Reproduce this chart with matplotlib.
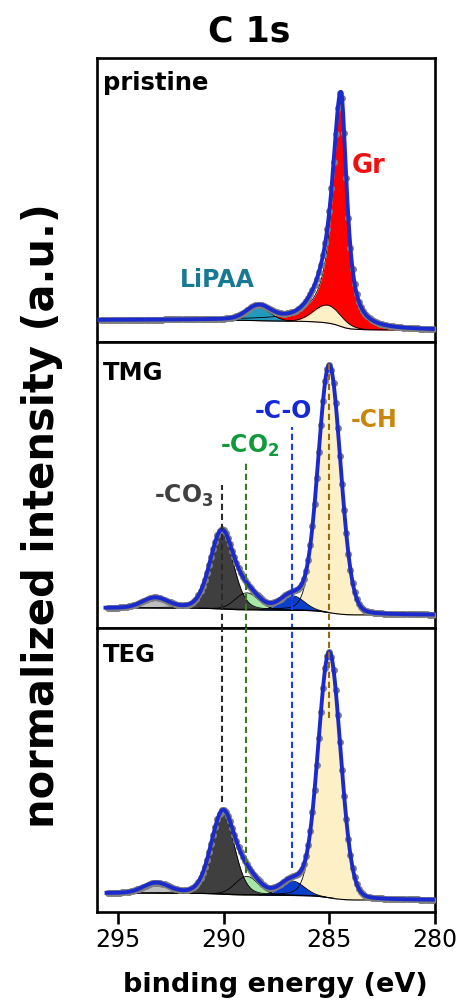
import numpy as np
import matplotlib
matplotlib.use("Agg")
import matplotlib.pyplot as plt

plt.rcParams['font.family'] = ['DejaVu Sans']
plt.rcParams['mathtext.fontset'] = 'dejavusans'

# ---------------- data ----------------
# fitted components: centre (eV), height (norm.), FWHM high-BE side, FWHM low-BE side, Lorentz fraction
P_NAMES = ['Gr', 'CH', 'LiPAA']
P_CENTER = [284.45, 285.10, 288.35]
P_HEIGHT = [0.940, 0.075, 0.055]
P_FWHM_HI = [0.95, 1.50, 1.30]
P_FWHM_LO = [0.66, 1.50, 1.30]
P_ETA = [0.90, 0.0, 0.0]
P_COLORS = ['#ff0000', '#fdf0c6', '#2399bd']
P_BG = [0.042, 0.0]           # background at high-BE end, low-BE end
P_RANGE = [280.1, 295.9]

T_NAMES = ['shake-up', '-CO2', '-CO3', '-CH', '-C-O']
T_CENTER = [293.25, 288.90, 290.10, 285.00, 286.75]
T_HEIGHT = [0.040, 0.068, 0.310, 0.990, 0.058]
T_FWHM_HI = [1.40, 1.30, 1.30, 1.25, 1.30]
T_FWHM_LO = [1.40, 1.30, 1.30, 1.25, 1.30]
T_ETA = [0.0, 0.0, 0.2, 0.1, 0.0]
T_BG = [0.028, 0.0]
T_RANGE = [280.1, 295.6]

G_NAMES = ['shake-up', '-CO2', '-CO3', '-CH', '-C-O']
G_CENTER = [293.20, 288.90, 290.05, 285.00, 286.75]
G_HEIGHT = [0.040, 0.075, 0.330, 0.990, 0.058]
G_FWHM_HI = [1.40, 1.30, 1.30, 1.25, 1.30]
G_FWHM_LO = [1.40, 1.30, 1.30, 1.25, 1.30]
G_ETA = [0.0, 0.0, 0.2, 0.1, 0.0]
G_BG = [0.028, 0.0]
G_RANGE = [280.1, 295.55]

SURF_COLORS = ['#bfbfbf', '#a6e6a6', '#3f3f3f', '#fdf0c6', '#0a3fcc']

# reference lines: position (eV), colour, (ymin, ymax) in TMG panel, (ymin, ymax) in TEG panel
REF_POS = [290.08, 288.94, 286.76, 285.00]
REF_COLORS = ['#2b2b2b', '#3c7a22', '#1f3cf5', '#99680f']
REF_TMG = [(-0.06, 0.52), (-0.06, 0.612), (-0.06, 0.752), (-0.06, 1.02)]
REF_TEG = [(0.395, 1.2), (0.109, 1.2), (0.129, 1.2), (0.734, 1.2)]

REF_LABELS = ['-CO$_\\mathbf{3}$', '-CO$_\\mathbf{2}$', '-C-O', '-CH']
REF_LABEL_COLORS = ['#404040', '#119a3c', '#1428d8', '#c8860a']
REF_LABEL_X = [291.88, 288.75, 287.16, 282.87]
REF_LABEL_Y = [0.448, 0.648, 0.788, 0.752]

PANEL_NAMES = ['pristine', 'TMG', 'TEG']
XTICKS = [295, 290, 285, 280]


# ---------------- helpers ----------------
def peak(E, c, h, fhi, flo, eta):
    w = np.where(E >= c, fhi, flo) / 2.0
    x = (E - c) / w
    return h * ((1 - eta) * np.exp(-np.log(2) * x ** 2) + eta / (1 + x ** 2))


def build(E, centers, heights, fhi, flo, eta, bgends):
    comps = [peak(E, c, h, a, b, e) for c, h, a, b, e in zip(centers, heights, fhi, flo, eta)]
    total = np.sum(comps, axis=0)
    cum = np.cumsum(total)
    bg = bgends[1] + (bgends[0] - bgends[1]) * cum / cum[-1]
    return comps, bg


def draw_panel(ax, rng, centers, heights, fhi, flo, eta, bgends, colors):
    E = np.linspace(rng[0], rng[1], 1200)
    comps, bg = build(E, centers, heights, fhi, flo, eta, bgends)
    for comp, col in zip(comps, colors):
        ax.fill_between(E, bg, bg + comp, where=comp > 1e-4, color=col, lw=0, zorder=2)
        m = comp > 1e-3
        ax.plot(E[m], (bg + comp)[m], color='k', lw=0.6, zorder=2.1)
    ax.plot(E, bg, color='k', lw=0.8, zorder=2.2)
    env = bg + np.sum(comps, axis=0)
    Ed = np.arange(rng[0], rng[1], 0.1)
    cd, bgd = build(Ed, centers, heights, fhi, flo, eta, bgends)
    envd = bgd + np.sum(cd, axis=0)
    ax.plot(Ed, envd, ls='none', marker='o', ms=5.0, color='#7f7f7f', mec='none', zorder=3)
    ax.plot(E, env, color='#1a2acc', lw=2.8, zorder=4)


fig = plt.figure(figsize=(4.61, 10.08), dpi=100)
edges = [58, 342, 628, 912]
left, right = 97 / 461, 435 / 461
ylims = [(-0.050, 1.143), (-0.052, 1.092), (-0.048, 1.097)]
axes = []
for i in range(3):
    top = 1 - edges[i] / 1008
    bot = 1 - edges[i + 1] / 1008
    ax = fig.add_axes([left, bot, right - left, top - bot])
    ax.set_xlim(296, 280)
    ax.set_ylim(*ylims[i])
    ax.set_yticks([])
    for s in ax.spines.values():
        s.set_linewidth(1.9)
    axes.append(ax)

draw_panel(axes[0], P_RANGE, P_CENTER, P_HEIGHT, P_FWHM_HI, P_FWHM_LO, P_ETA, P_BG, P_COLORS)
draw_panel(axes[1], T_RANGE, T_CENTER, T_HEIGHT, T_FWHM_HI, T_FWHM_LO, T_ETA, T_BG, SURF_COLORS)
draw_panel(axes[2], G_RANGE, G_CENTER, G_HEIGHT, G_FWHM_HI, G_FWHM_LO, G_ETA, G_BG, SURF_COLORS)

for ax in axes[:2]:
    ax.set_xticks([])
axes[2].set_xticks(XTICKS)
axes[2].set_xticklabels([str(t) for t in XTICKS], fontsize=17)
axes[2].tick_params(axis='x', direction='out', length=8.5, width=1.9, pad=3)

# reference dashed lines
for x, col, (a0, a1), (b0, b1) in zip(REF_POS, REF_COLORS, REF_TMG, REF_TEG):
    axes[1].vlines(x, a0, a1, colors=col, linestyles=(0, (3.0, 1.8)), lw=1.5, zorder=5)
    axes[2].vlines(x, b0, b1, colors=col, linestyles=(0, (3.0, 1.8)), lw=1.5, zorder=5)

for lab, col, x, y in zip(REF_LABELS, REF_LABEL_COLORS, REF_LABEL_X, REF_LABEL_Y):
    axes[1].text(x, y, lab, color=col, fontsize=17, fontweight='bold', ha='center', va='baseline', zorder=6)

# panel labels
ybase = [0.887, 0.867, 0.880]
for ax, name, yb in zip(axes, PANEL_NAMES, ybase):
    ax.text(0.018, yb, name, transform=ax.transAxes, fontsize=17.5, fontweight='bold',
            ha='left', va='baseline', color='k')

axes[0].text(283.16, 0.66, 'Gr', color='#ee1111', fontsize=18.5, fontweight='bold', ha='center', va='baseline')
axes[0].text(290.29, 0.18, 'LiPAA', color='#177a92', fontsize=17, fontweight='bold', ha='center', va='baseline')

fig.text(0.54, 0.969, 'C 1s', fontsize=25, fontweight='bold', ha='center', va='center')
fig.text(0.597, 0.023, 'binding energy (eV)', fontsize=19.5, fontweight='bold', ha='center', va='center')
fig.text(0.091, 0.489, 'normalized intensity (a.u.)', fontsize=30, fontweight='bold', ha='center', va='center',
         rotation=90)

fig.savefig('out.png', dpi=100)
